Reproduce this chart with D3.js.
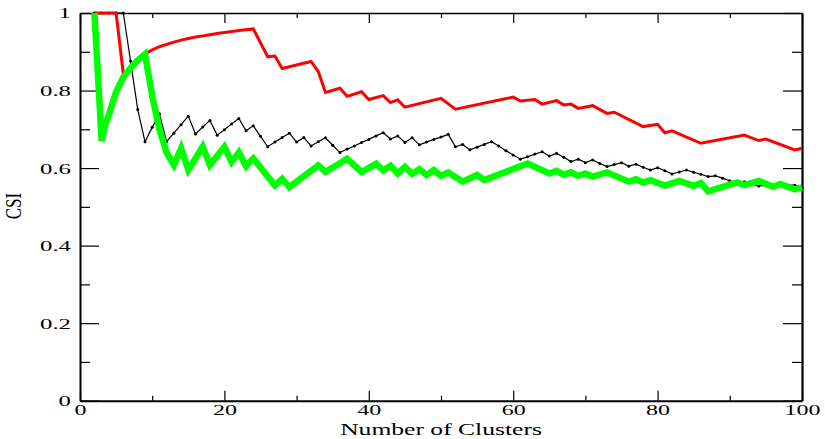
<!DOCTYPE html>
<html>
<head>
<meta charset="utf-8">
<script src="https://cdn.jsdelivr.net/npm/d3@7"></script>
<style>
  body { margin: 0; background: #fff; }
  svg { display: block; }
  text { font-family: "Liberation Serif", "Times New Roman", serif; fill: #000; }
</style>
</head>
<body>
<div id="chart"></div>
<script>
// black series: value at every cluster count k = 2..100
var blackK = d3.range(2, 101)
var blackCSI = [
  1.0, 1.0, 1.0, 1.0, 1.0, 0.876, 0.751, 0.668, 0.705, 0.740,
  0.668, 0.690, 0.712, 0.734, 0.688, 0.706, 0.723, 0.685, 0.699, 0.714,
  0.728, 0.696, 0.709, 0.682, 0.655, 0.667, 0.679, 0.690, 0.667, 0.679,
  0.657, 0.668, 0.678, 0.659, 0.640, 0.649, 0.657, 0.666, 0.674, 0.683,
  0.691, 0.675, 0.683, 0.666, 0.678, 0.660, 0.667, 0.674, 0.680, 0.687,
  0.655, 0.661, 0.647, 0.654, 0.661, 0.668, 0.657, 0.645, 0.634, 0.623,
  0.629, 0.636, 0.642, 0.631, 0.638, 0.628, 0.617, 0.623, 0.614, 0.621,
  0.612, 0.604, 0.609, 0.614, 0.605, 0.610, 0.602, 0.595, 0.601, 0.593,
  0.585, 0.590, 0.595, 0.589, 0.584, 0.578, 0.580, 0.574, 0.567, 0.561,
  0.565, 0.559, 0.554, 0.555, 0.555, 0.556, 0.556, 0.556, 0.550
]

// red series: [k, CSI] at each vertex
var redPoints = [
  [2, 1.0], [5, 1.0], [6, 0.843], [7, 0.857], [8, 0.877], [9, 0.894],
  [10, 0.905], [11, 0.913], [12, 0.919], [13, 0.925], [14, 0.930], [15, 0.934],
  [16, 0.938], [17, 0.941], [18, 0.944], [19, 0.947], [20, 0.950], [21, 0.952],
  [22, 0.955], [23, 0.957], [24, 0.959], [26, 0.887], [27, 0.889], [28, 0.857],
  [32, 0.875], [33, 0.849], [34, 0.795], [36, 0.806], [37, 0.785], [39, 0.797],
  [40, 0.777], [42, 0.787], [43, 0.769], [44, 0.776], [45, 0.757], [50, 0.780],
  [52, 0.752], [60, 0.783], [61, 0.773], [63, 0.777], [64, 0.765], [66, 0.774],
  [67, 0.763], [68, 0.765], [69, 0.754], [71, 0.761], [73, 0.741], [74, 0.744],
  [78, 0.707], [80, 0.713], [81, 0.691], [82, 0.696], [86, 0.664], [92, 0.685],
  [94, 0.671], [95, 0.675], [99, 0.647], [100, 0.651]
]

// green series: [k, CSI] at each vertex
var greenPoints = [
  [2, 1.0], [3, 0.670], [3.5, 0.712], [4, 0.737], [5, 0.797], [6, 0.834],
  [7, 0.858], [8, 0.878], [9, 0.894], [10, 0.787], [11, 0.700], [12, 0.640],
  [13, 0.608], [14, 0.651], [15, 0.595], [17, 0.655], [18, 0.608], [20, 0.655],
  [21, 0.616], [22, 0.640], [23, 0.605], [24, 0.625], [27, 0.555], [28, 0.572],
  [29, 0.551], [33, 0.607], [34, 0.590], [37, 0.624], [39, 0.590], [41, 0.611],
  [42, 0.594], [43, 0.606], [44, 0.586], [45, 0.603], [46, 0.585], [47, 0.597],
  [48, 0.582], [49, 0.595], [50, 0.580], [51, 0.589], [53, 0.565], [55, 0.582],
  [56, 0.569], [62, 0.612], [65, 0.586], [66, 0.593], [67, 0.583], [68, 0.589],
  [69, 0.580], [70, 0.586], [71, 0.578], [73, 0.589], [76, 0.565], [77, 0.571],
  [78, 0.563], [79, 0.569], [81, 0.555], [83, 0.567], [85, 0.554], [86, 0.561],
  [87, 0.540], [91, 0.563], [92, 0.556], [94, 0.567], [96, 0.552], [97, 0.559],
  [99, 0.545], [100, 0.550]
]

var xMajor = [0, 20, 40, 60, 80, 100]
var xMinor = [10, 30, 50, 70, 90]
var yMajor = [0, 0.2, 0.4, 0.6, 0.8, 1]
var yMinor = [0.1, 0.3, 0.5, 0.7, 0.9]
var yLabels = ["0", "0.2", "0.4", "0.6", "0.8", "1"]

var W = 825, H = 439
var m = {left: 80, right: 23, top: 13, bottom: 38.3}
var stretch = 1.6

var svg = d3.select("#chart").append("svg")
  .attr("width", W)
  .attr("height", H)

var x = d3.scaleLinear().domain([0, 100]).range([m.left, W - m.right])
var y = d3.scaleLinear().domain([0, 1]).range([H - m.bottom, m.top])

function drawAxis(axis, tx, ty, width, labels) {
  var g = svg.append("g")
    .attr("transform", "translate(" + tx + "," + ty + ")")
    .call(axis)
  g.select(".domain").attr("stroke", "#000").attr("stroke-width", width)
  g.selectAll(".tick line").attr("stroke", "#000").attr("stroke-width", 1.2)
  if (!labels) g.selectAll(".tick text").remove()
  return g
}

// bottom
var gb = drawAxis(d3.axisBottom(x).tickValues(xMajor).tickSizeInner(-10).tickSizeOuter(0).tickPadding(4), 0, y(0), 2, true)
gb.selectAll(".tick text")
  .attr("font-size", 15)
  .attr("font-family", null)
  .attr("transform", "scale(" + stretch + ",1)")
drawAxis(d3.axisBottom(x).tickValues(xMinor).tickSize(-5).tickFormat(""), 0, y(0), 0, false)

// top
drawAxis(d3.axisTop(x).tickValues(xMajor).tickSizeInner(-10).tickSizeOuter(0).tickFormat(""), 0, y(1), 1.5, false)
drawAxis(d3.axisTop(x).tickValues(xMinor).tickSize(-5).tickFormat(""), 0, y(1), 0, false)

// left
var gl = drawAxis(d3.axisLeft(y).tickValues(yMajor).tickSizeInner(-19).tickSizeOuter(0)
  .tickFormat(function(d, i){ return yLabels[i] }), x(0), 0, 2, true)
gl.selectAll(".tick text")
  .attr("font-size", 15.5)
  .attr("font-family", null)
  .attr("x", -9 / stretch)
  .attr("transform", "scale(" + stretch + ",1)")
drawAxis(d3.axisLeft(y).tickValues(yMinor).tickSize(-10).tickFormat(""), x(0), 0, 0, false)

// right
drawAxis(d3.axisRight(y).tickValues(yMajor).tickSizeInner(-19).tickSizeOuter(0).tickFormat(""), x(100), 0, 2.2, false)
drawAxis(d3.axisRight(y).tickValues(yMinor).tickSize(-10).tickFormat(""), x(100), 0, 0, false)

// axis titles
svg.append("text")
  .attr("transform", "translate(" + (m.left + W - m.right) / 2 + ",434.5) scale(" + stretch + ",1)")
  .attr("text-anchor", "middle")
  .attr("font-size", 16)
  .text("Number of Clusters")

svg.append("text")
  .attr("transform", "translate(21,206) scale(1.3,1) rotate(-90)")
  .attr("text-anchor", "middle")
  .attr("font-size", 17)
  .text("CSI")

// series
var plot = svg.append("g")
var line = d3.line()
  .x(function(d){ return x(d[0]) })
  .y(function(d){ return y(d[1]) })

var blackPoints = blackK.map(function(k, i){ return [k, blackCSI[i]] })

plot.append("path")
  .datum(blackPoints)
  .attr("fill", "none")
  .attr("stroke", "#000")
  .attr("stroke-width", 1.2)
  .attr("d", line)

plot.selectAll("circle.dot")
  .data(blackPoints).enter()
  .append("circle")
  .attr("class", "dot")
  .attr("cx", function(d){ return x(d[0]) })
  .attr("cy", function(d){ return y(d[1]) })
  .attr("r", 1.5)
  .attr("fill", "#000")

plot.append("path")
  .datum(redPoints)
  .attr("fill", "none")
  .attr("stroke", "#ff0000")
  .attr("stroke-width", 3)
  .attr("stroke-linejoin", "miter")
  .attr("d", line)

plot.append("path")
  .datum(greenPoints)
  .attr("fill", "none")
  .attr("stroke", "#00ff00")
  .attr("stroke-width", 6.5)
  .attr("stroke-linejoin", "miter")
  .attr("d", line)
</script>
</body>
</html>
